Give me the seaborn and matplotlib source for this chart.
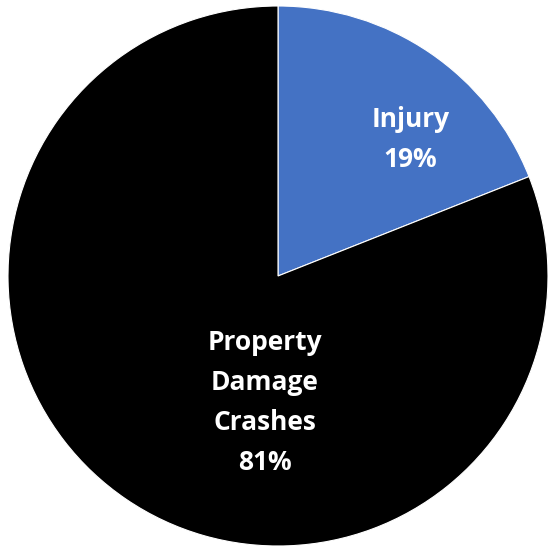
import matplotlib
matplotlib.use("Agg")
import matplotlib.pyplot as plt
import seaborn as sns

categories = ["Injury", "Property\nDamage\nCrashes"]
values = [19, 81]
colors = ["#4472C4", "#000000"]

sns.set_theme(style="white")
plt.rcParams['font.family'] = ['Open Sans', 'DejaVu Sans']

W, H = 548, 552
fig = plt.figure(figsize=(W / 100, H / 100), dpi=100)
cx, cy, r = 278, 276, 270
ax = fig.add_axes([(cx - r) / W, (H - cy - r) / H, 2 * r / W, 2 * r / H])

wedges, _ = ax.pie(values, colors=colors, startangle=90, counterclock=False,
                   wedgeprops=dict(edgecolor="white", linewidth=0.8))
ax.set_xlim(-1, 1)
ax.set_ylim(-1, 1)

label_pos = [(0.49, 0.505), (-0.048, -0.47)]
for cat, v, (x, y) in zip(categories, values, label_pos):
    ax.text(x, y, f"{cat}\n{v}%", ha="center", va="center", color="white",
            fontsize=19, fontweight="bold", linespacing=1.62)

fig.savefig("out.png", dpi=100)
